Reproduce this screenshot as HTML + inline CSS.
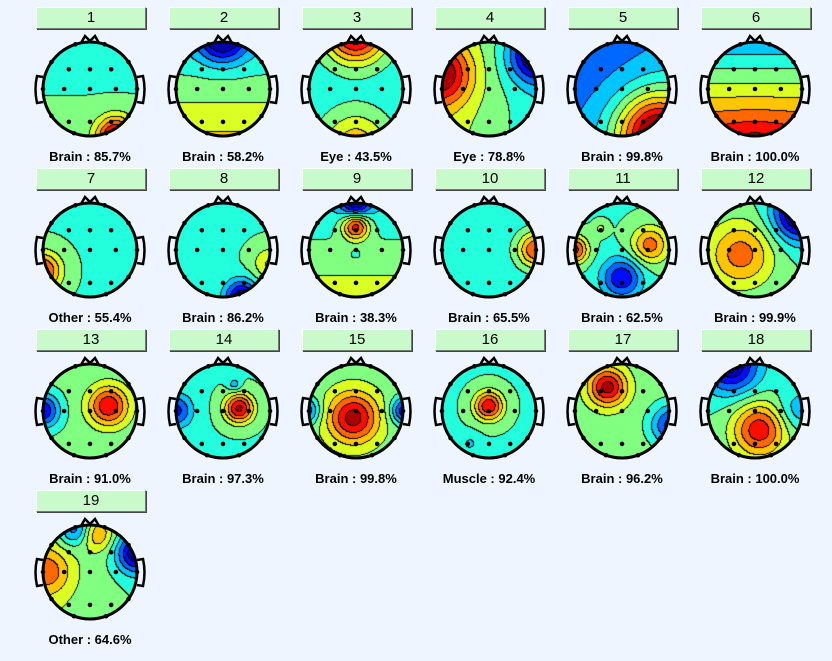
<!DOCTYPE html>
<html><head><meta charset="utf-8">
<style>
body{margin:0;background:#eef5ff;width:832px;height:661px;overflow:hidden;font-family:"Liberation Sans",sans-serif;}
.cell{position:absolute;width:133px;height:161px;}
.btn{position:absolute;left:6px;top:7px;width:108px;height:20px;background:#c8facb;border:1px solid #fff;border-right-color:#777;border-bottom-color:#777;box-shadow:1px 1px 0 #444;font-size:15px;text-align:center;line-height:20px;color:#000;}
canvas{position:absolute;left:12px;top:41px;}
svg.ov{position:absolute;left:0;top:0;}
.lab{position:absolute;left:0;width:122px;top:149px;text-align:center;font-weight:bold;font-size:13px;}
</style></head><body>
<div id="root"></div>
<script>
// component labels
const compIds=[1,2,3,4,5,6,7,8,9,10,11,12,13,14,15,16,17,18,19];
const compClass=["Brain","Brain","Eye","Eye","Brain","Brain","Other","Brain","Brain","Brain","Brain","Brain","Brain","Brain","Brain","Muscle","Brain","Brain","Other"];
const compPct=["85.7","58.2","43.5","78.8","99.8","100.0","55.4","86.2","38.3","65.5","62.5","99.9","91.0","97.3","99.8","92.4","96.2","100.0","64.6"];
// field model: base, gradX, gradY
const compBase=[0.45,0.5,0.4,0.5,0.28,0.58,0.45,0.45,0.48,0.4,0.45,0.45,0.48,0.45,0.5,0.45,0.5,0.45,0.5];
const compGx=[0,0,0,-0.1,0.05,0,0,0,0,0,0,0,0,0,0,0,0,0,-0.05];
const compGy=[0.03,0.15,0.0,0,0.05,0.3,0,0,0.12,0,0,0,0,0,0,0,0,0.02,0];
// sources per component: [x,y,amp,sigma]
const compSrc=[
 [[0.55,1.0,0.5,0.28]],
 [[0,-1.05,-0.4,0.35]],
 [[0,-1.2,0.6,0.45],[0,1.2,0.3,0.5]],
 [[-1.0,-0.3,0.42,0.45],[1.0,-0.7,-0.45,0.4]],
 [[0.75,0.95,0.7,0.6]],
 [[0,1.1,0.05,0.4]],
 [[-1.0,0.45,0.4,0.28]],
 [[0.4,1.0,-0.42,0.25],[1.0,0.3,0.2,0.25]],
 [[0,-0.5,0.45,0.2],[0,-1.0,-0.4,0.22],[0,0.1,-0.08,0.08]],
 [[1.0,0.0,0.42,0.27]],
 [[-1.0,0.0,0.4,0.2],[0.6,-0.1,0.32,0.28],[0,0.6,-0.35,0.3],[-0.45,-0.45,0.12,0.1]],
 [[-0.3,0.1,0.32,0.5],[0.95,-0.75,-0.5,0.4]],
 [[0.4,-0.1,0.42,0.3],[-1.0,0,-0.38,0.25]],
 [[0.35,-0.05,0.48,0.22],[-1.0,0,-0.3,0.25],[0.25,-0.55,-0.15,0.1]],
 [[-0.05,0.15,0.45,0.38],[-1.05,0,-0.3,0.2],[1.05,0,-0.4,0.2]],
 [[0,-0.1,0.45,0.22],[-0.4,0.7,-0.1,0.15]],
 [[-0.3,-0.5,0.45,0.28],[1.05,0.3,-0.35,0.3]],
 [[-0.5,-0.95,-0.42,0.4],[0.1,0.4,0.42,0.4],[0.9,0,-0.15,0.3]],
 [[-0.9,0,0.25,0.35],[1.0,-0.4,-0.45,0.3],[-0.3,-0.9,-0.3,0.25],[0.15,-0.8,0.25,0.25]]
];
function cl(v){return Math.max(0,Math.min(1,v));}
function jet(t){return [cl(1.5-Math.abs(4*t-3)),cl(1.5-Math.abs(4*t-2)),cl(1.5-Math.abs(4*t-1))].map(v=>Math.round(v*255));}
const R=47,S=96,L=11;
const root=document.getElementById('root');
const rim=[18,55,90,125,160,-18,-55,-90,-125,-160];
const inner=[[-0.45,-0.42],[0,-0.42],[0.45,-0.42],[-0.55,0],[0,0],[0.55,0],[-0.45,0.7],[0,0.7],[0.45,0.7]];
compIds.forEach((id,i)=>{
 const col=i%6,row=Math.floor(i/6);
 const c=document.createElement('div');c.className='cell';
 c.style.left=(30+col*133)+'px';c.style.top=(row*161)+'px';
 
 
 const b=document.createElement('div');b.className='btn';b.textContent=id;
 
 
 c.appendChild(b);
 const cv=document.createElement('canvas');cv.width=S;cv.height=S;
 
 
 c.appendChild(cv);
 const ctx=cv.getContext('2d');const img=ctx.createImageData(S,S);
 const lv=new Int16Array(S*S).fill(-1);
 for(let py=0;py<S;py++)for(let px=0;px<S;px++){
  const x=(px-S/2+0.5)/R,y=(py-S/2+0.5)/R;
  if(x*x+y*y>1)continue;
  let t=compBase[i]+compGx[i]*x+compGy[i]*y;
  compSrc[i].forEach(s=>{const d=(x-s[0])**2+(y-s[1])**2;t+=s[2]*Math.exp(-d/(2*s[3]*s[3]));});
  t=cl(t);lv[py*S+px]=Math.min(L-1,Math.floor(t*L));
 }
 for(let py=0;py<S;py++)for(let px=0;px<S;px++){
  const k=py*S+px,l=lv[k];if(l<0)continue;
  let edge=(px+1<S&&lv[k+1]>=0&&lv[k+1]!=l)||(py+1<S&&lv[k+S]>=0&&lv[k+S]!=l);
  const cc=edge?[0,0,0]:jet((l+0.5)/L);
  img.data.set([cc[0],cc[1],cc[2],255],k*4);
 }
 ctx.putImageData(img,0,0);
 const cx=12+S/2,cy=41+S/2;
 let s=`<svg class="ov" width="133" height="161">`;
 s+=`<path d="M${cx-9} ${cy-R+1} L${cx-5} ${cy-R-6} L${cx} ${cy-R-1} L${cx+5} ${cy-R-6} L${cx+9} ${cy-R+1}" fill="none" stroke="#000" stroke-width="2.5"/>`;
 s+=`<path d="M${cx-R} ${cy-12} L${cx-R-6} ${cy-13} Q${cx-R-9} ${cy} ${cx-R-6} ${cy+14} L${cx-R} ${cy+13}" fill="none" stroke="#000" stroke-width="2.5"/>`;
 s+=`<path d="M${cx+R} ${cy-12} L${cx+R+6} ${cy-13} Q${cx+R+9} ${cy} ${cx+R+6} ${cy+14} L${cx+R} ${cy+13}" fill="none" stroke="#000" stroke-width="2.5"/>`;
 s+=`<circle cx="${cx}" cy="${cy}" r="${R}" fill="none" stroke="#000" stroke-width="3"/>`;
 rim.forEach(a=>{const r=a*Math.PI/180;s+=`<circle cx="${cx+Math.sin(r)*R}" cy="${cy-Math.cos(r)*R}" r="2.3" fill="#000"/>`;});
 inner.forEach(p=>{s+=`<circle cx="${cx+p[0]*R}" cy="${cy+p[1]*R}" r="2.3" fill="#000"/>`;});
 s+=`</svg>`;
 const w=document.createElement('div');w.innerHTML=s;
 const sv=w.firstChild;
 
 
 c.appendChild(sv);
 const lb=document.createElement('div');lb.className='lab';lb.textContent=compClass[i]+' : '+compPct[i]+'%';
 lb.style.left='-1px';
 
 
 c.appendChild(lb);
 root.appendChild(c);
});
</script>
</body></html>
